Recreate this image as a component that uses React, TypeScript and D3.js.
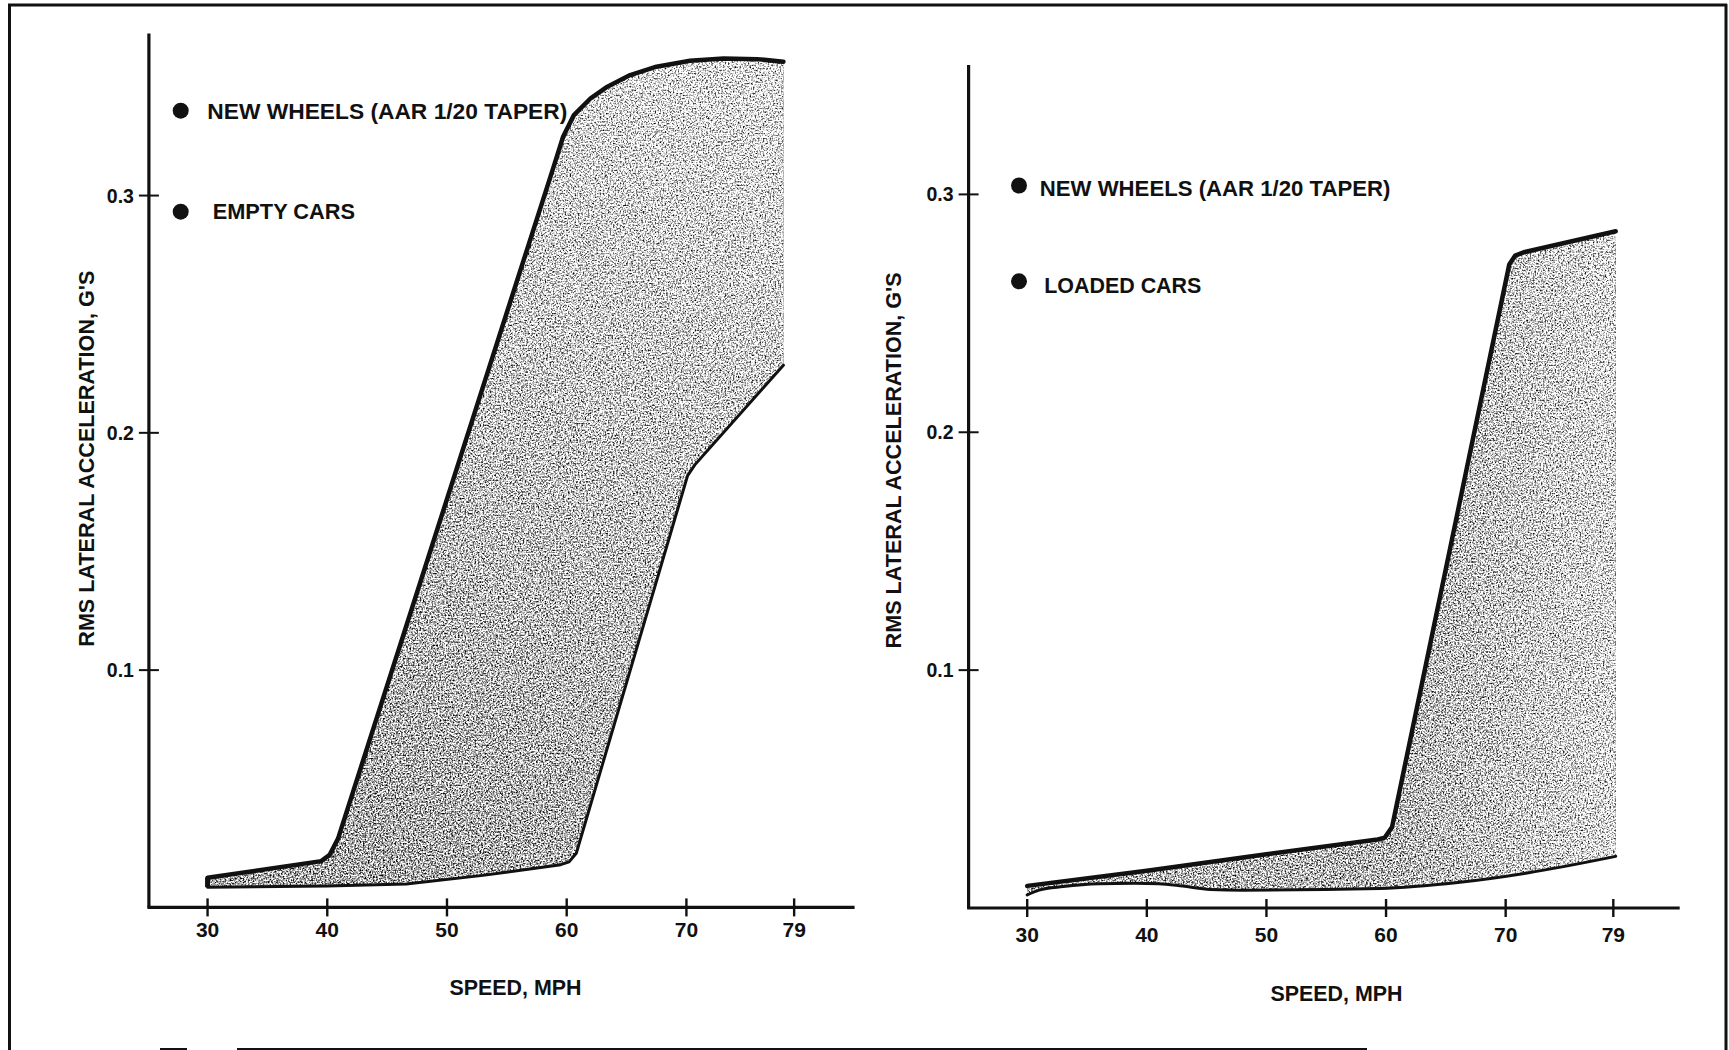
import React from 'react';
import * as d3 from 'd3';

// Speed axis ticks (MPH) and acceleration ticks (G's)
const SPEED_TICKS = [30, 40, 50, 60, 70, 79];
const ACCEL_TICKS = [0.1, 0.2, 0.3];

// Empty cars: upper and lower envelope of RMS lateral acceleration vs speed
const emptyUpper: [number, number][] = [
  [30, 0.0125], [39.5, 0.0195], [40.2, 0.0222], [40.9, 0.029], [58.9, 0.312],
  [59.7, 0.3248], [60.6, 0.3339], [62, 0.341], [63.4, 0.3459], [65.3, 0.3508],
  [67.5, 0.3543], [70.3, 0.3568], [73.1, 0.3578], [75.9, 0.3575], [78.1, 0.3564],
];
const emptyLower: [number, number][] = [
  [30, 0.0085], [40, 0.009], [46.6, 0.0099], [53, 0.0135], [59.5, 0.018],
  [60.2, 0.0192], [60.8, 0.0228], [70.1, 0.182], [70.7, 0.1865], [78.1, 0.2285],
];

// Loaded cars: upper and lower envelope
const loadedUpper: [number, number][] = [
  [30, 0.0093], [40, 0.0157], [50, 0.0226], [59.3, 0.0288], [59.9, 0.0296],
  [60.5, 0.034], [70.3, 0.2705], [70.8, 0.2743], [71.6, 0.2758], [79.2, 0.2845],
];
const loadedLower: [number, number][] = [
  [30, 0.0055], [31, 0.0075], [33, 0.009], [36, 0.0102], [39, 0.0104],
  [41, 0.0102], [43, 0.0092], [45.3, 0.0078], [48, 0.0075], [59.5, 0.0082],
  [66, 0.0107], [71.8, 0.0147], [79.2, 0.0217],
];

const emptyLegend = ['NEW WHEELS (AAR 1/20 TAPER)', 'EMPTY CARS'];
const loadedLegend = ['NEW WHEELS (AAR 1/20 TAPER)', 'LOADED CARS'];
const X_LABEL = 'SPEED, MPH';
const Y_LABEL = "RMS LATERAL ACCELERATION, G'S";

const FONT = '"Liberation Sans", Arial, Helvetica, sans-serif';
const INK = '#111';

type Pt = [number, number];

interface PanelCfg {
  id: string;
  upper: Pt[];
  lower: Pt[];
  lowerCurve: d3.CurveFactory;
  closeStart: boolean;
  xDomain: [number, number];
  xRange: [number, number];
  yDomain: [number, number];
  yRange: [number, number];
  tickLabelBaseline: number;
  xLabel: { x: number; y: number };
  yLabel: { x: number; y: number };
  legend: string[];
  legendPos: { bx: number; by: number; tx: number; ty: number; len: number }[];
  grad: { x1: number; y1: number; x2: number; y2: number; c1: string; c2: string };
}

const panels: PanelCfg[] = [
  {
    id: 'empty',
    upper: emptyUpper,
    lower: emptyLower,
    lowerCurve: d3.curveLinear,
    closeStart: true,
    xDomain: [25.1, 84.05],
    xRange: [148.9, 854.6],
    yDomain: [0, 0.3683],
    yRange: [907.4, 33.5],
    tickLabelBaseline: 937,
    xLabel: { x: 515.5, y: 995 },
    yLabel: { x: 94, y: 458.7 },
    legend: emptyLegend,
    legendPos: [
      { bx: 180.7, by: 110.7, tx: 207.3, ty: 119.3, len: 360 },
      { bx: 180.7, by: 211.7, tx: 212.7, ty: 219.3, len: 142.3 },
    ],
    grad: { x1: 330, y1: 880, x2: 770, y2: 110, c1: '#a8a8a8', c2: '#e4e4e4' },
  },
  {
    id: 'loaded',
    upper: loadedUpper,
    lower: loadedLower,
    lowerCurve: d3.curveMonotoneX,
    closeStart: false,
    xDomain: [25.1, 84.55],
    xRange: [968.6, 1679.7],
    yDomain: [0, 0.3544],
    yRange: [908, 65],
    tickLabelBaseline: 942,
    xLabel: { x: 1336.5, y: 1001 },
    yLabel: { x: 901, y: 460.4 },
    legend: loadedLegend,
    legendPos: [
      { bx: 1019, by: 185.5, tx: 1039.8, ty: 195.5, len: 350.6 },
      { bx: 1019, by: 281.3, tx: 1044.2, ty: 292.6, len: 157.2 },
    ],
    grad: { x1: 1390, y1: 500, x2: 1615, y2: 500, c1: '#b8b8b8', c2: '#e2e2e2' },
  },
];

function Panel({ cfg }: { cfg: PanelCfg }) {
  const x = d3.scaleLinear().domain(cfg.xDomain).range(cfg.xRange);
  const y = d3.scaleLinear().domain(cfg.yDomain).range(cfg.yRange);
  const upperLine = d3
    .line<Pt>()
    .x((d) => x(d[0]))
    .y((d) => y(d[1]))
    .curve(d3.curveLinear);
  const lowerLine = d3
    .line<Pt>()
    .x((d) => x(d[0]))
    .y((d) => y(d[1]))
    .curve(cfg.lowerCurve);

  const upperPath = upperLine(cfg.upper) as string;
  const lowerPath = lowerLine(cfg.lower) as string;
  const lowerRev = lowerLine([...cfg.lower].reverse()) as string;
  const bandPath = upperPath + 'L' + lowerRev.slice(1) + 'Z';

  const [xa0, xa1] = cfg.xRange;
  const [ya0, ya1] = cfg.yRange;

  return (
    <g>
      <defs>
        <linearGradient
          id={`grad-${cfg.id}`}
          gradientUnits="userSpaceOnUse"
          x1={cfg.grad.x1}
          y1={cfg.grad.y1}
          x2={cfg.grad.x2}
          y2={cfg.grad.y2}
        >
          <stop offset="0" stopColor={cfg.grad.c1} />
          <stop offset="1" stopColor={cfg.grad.c2} />
        </linearGradient>
      </defs>

      {/* stippled band between the envelopes */}
      <path d={bandPath} fill={`url(#grad-${cfg.id})`} filter="url(#grain)" />

      {/* envelope outlines */}
      <path d={upperPath} fill="none" stroke={INK} strokeWidth={4.5} strokeLinejoin="round" strokeLinecap="round" />
      <path d={lowerPath} fill="none" stroke={INK} strokeWidth={3} strokeLinejoin="round" strokeLinecap="round" />
      {cfg.closeStart && (
        <line
          x1={x(cfg.lower[0][0])}
          y1={y(cfg.lower[0][1])}
          x2={x(cfg.upper[0][0])}
          y2={y(cfg.upper[0][1])}
          stroke={INK}
          strokeWidth={5}
        />
      )}

      {/* axes */}
      <line x1={xa0} y1={ya0} x2={xa0} y2={ya1} stroke={INK} strokeWidth={3.2} />
      <line x1={xa0 - 1.5} y1={ya0} x2={xa1} y2={ya0} stroke={INK} strokeWidth={3.2} />

      {SPEED_TICKS.map((t) => (
        <g key={`xt-${t}`}>
          <line x1={x(t)} x2={x(t)} y1={ya0 - 9} y2={ya0 + 9} stroke={INK} strokeWidth={2.4} />
          <text
            x={x(t)}
            y={cfg.tickLabelBaseline}
            textAnchor="middle"
            fontFamily={FONT}
            fontWeight="bold"
            fontSize={21}
            fill={INK}
          >
            {t}
          </text>
        </g>
      ))}

      {ACCEL_TICKS.map((t) => (
        <g key={`yt-${t}`}>
          <line x1={xa0 - 10} x2={xa0 + 10} y1={y(t)} y2={y(t)} stroke={INK} strokeWidth={2} />
          <text
            x={xa0 - 15}
            y={y(t) + 7}
            textAnchor="end"
            fontFamily={FONT}
            fontWeight="bold"
            fontSize={19.5}
            fill={INK}
          >
            {d3.format('.1f')(t)}
          </text>
        </g>
      ))}

      {/* axis titles */}
      <text
        x={cfg.xLabel.x}
        y={cfg.xLabel.y}
        textAnchor="middle"
        fontFamily={FONT}
        fontWeight="bold"
        fontSize={22}
        textLength={132}
        lengthAdjust="spacingAndGlyphs"
        fill={INK}
      >
        {X_LABEL}
      </text>
      <text
        transform={`translate(${cfg.yLabel.x},${cfg.yLabel.y}) rotate(-90)`}
        textAnchor="middle"
        fontFamily={FONT}
        fontWeight="bold"
        fontSize={22}
        textLength={376}
        lengthAdjust="spacingAndGlyphs"
        fill={INK}
      >
        {Y_LABEL}
      </text>

      {/* legend notes */}
      {cfg.legend.map((s, i) => {
        const p = cfg.legendPos[i];
        return (
          <g key={`lg-${i}`}>
            <circle cx={p.bx} cy={p.by} r={8} fill={INK} />
            <text
              x={p.tx}
              y={p.ty}
              fontFamily={FONT}
              fontWeight="bold"
              fontSize={22.5}
              textLength={p.len}
              lengthAdjust="spacingAndGlyphs"
              fill={INK}
            >
              {s}
            </text>
          </g>
        );
      })}
    </g>
  );
}

export default function App() {
  return (
    <svg
      width={1729}
      height={1050}
      viewBox="0 0 1729 1050"
      style={{ position: 'absolute', left: 0, top: 0, background: '#fff' }}
    >
      <defs>
        <filter
          id="grain"
          filterUnits="userSpaceOnUse"
          x={0}
          y={0}
          width={1729}
          height={1050}
          colorInterpolationFilters="sRGB"
        >
          <feTurbulence type="fractalNoise" baseFrequency="0.6" numOctaves={3} seed={5} result="noise" />
          <feColorMatrix
            in="noise"
            type="matrix"
            values="1 0 0 0 0  1 0 0 0 0  1 0 0 0 0  0 0 0 0 1"
            result="gray"
          />
          <feComposite
            in="SourceGraphic"
            in2="gray"
            operator="arithmetic"
            k1={0}
            k2={1}
            k3={2.4}
            k4={-1.2}
            result="mix"
          />
          <feComposite in="mix" in2="SourceAlpha" operator="in" />
        </filter>
      </defs>

      <rect x={0} y={0} width={1729} height={1050} fill="#fff" />

      {/* page frame */}
      <g stroke={INK} strokeWidth={3} fill="none">
        <line x1={8} y1={5} x2={1727} y2={5} />
        <line x1={9.5} y1={4} x2={9.5} y2={1050} />
        <line x1={1726} y1={4} x2={1726} y2={1050} />
        <line x1={160} y1={1049} x2={187} y2={1049} strokeWidth={2} />
        <line x1={237} y1={1049} x2={1367} y2={1049} strokeWidth={2} />
      </g>

      {panels.map((p) => (
        <Panel key={p.id} cfg={p} />
      ))}
    </svg>
  );
}
